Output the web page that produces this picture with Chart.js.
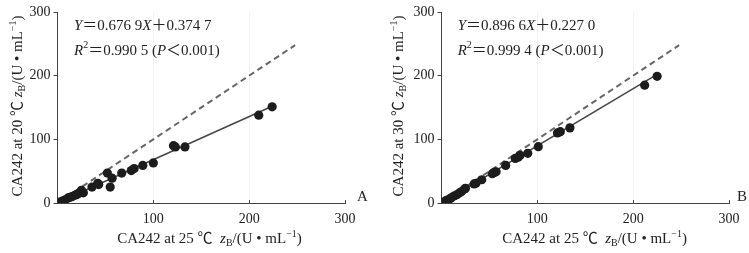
<!DOCTYPE html>
<html>
<head>
<meta charset="utf-8">
<script src="https://cdn.jsdelivr.net/npm/chart.js@4.4.1/dist/chart.umd.min.js"></script>
<style>
  body { margin: 0; background: #fff; }
  .panel { position: absolute; top: 0; }
</style>
</head>
<body>
<div class="panel" style="left:0"><canvas id="chartA" width="375" height="253"></canvas></div>
<div class="panel" style="left:375px"><canvas id="chartB" width="374" height="253"></canvas></div>
<script>
// panel A: 25 ℃ vs 20 ℃
const aX = [2, 5, 8, 11, 13, 15, 18, 20, 22, 24, 25, 27, 36, 42, 43, 52, 55, 57, 67, 77, 80, 89, 100, 121, 123, 133, 210, 224];
const aY = [1.5, 3, 5, 8, 9, 10, 12, 13, 15, 17, 20, 16, 25, 31, 29, 47, 25, 39, 47, 51, 54, 59, 63, 90, 88, 88, 138, 151];
const aFit = [[0, 0.4], [224, 152]];

// panel B: 25 ℃ vs 30 ℃
const bX = [2, 5, 8, 10, 13, 16, 19, 21, 24, 25, 34, 36, 42, 53, 55, 57, 67, 77, 80, 82, 90, 101, 121, 124, 134, 212, 225];
const bY = [1.5, 4, 6, 8, 11, 13, 16, 18, 22, 23, 30, 31, 36.5, 46, 48, 49, 59, 70, 72, 75, 78, 88.5, 110, 112, 118, 185, 199];
const bFit = [[0, 0.2], [225, 202]];

const identity = [[0, 0], [248, 248]];
const xTicks = [100, 200, 300];
const yTicks = [0, 100, 200, 300];

const SERIF = "'Liberation Serif', 'Noto Sans CJK SC', serif";

function fontOf(kind) {
  if (kind === 'i') return 'italic 15px ' + SERIF;
  if (kind === 'sub' || kind === 'sup') return '10px ' + SERIF;
  return '15px ' + SERIF;
}

// draws a line of mixed text (italic, sub, sup)
function drawRich(ctx, segs, x, y, center) {
  let total = 0;
  segs.forEach(s => { ctx.font = fontOf(s[1]); s.w = ctx.measureText(s[0]).width; total += s.w; });
  let cx = center ? x - total / 2 : x;
  segs.forEach(s => {
    ctx.font = fontOf(s[1]);
    const dy = s[1] === 'sub' ? 4 : s[1] === 'sup' ? -5 : 0;
    ctx.fillText(s[0], cx, y + dy);
    cx += s.w;
  });
}

function unitSegs(prefix) {
  return [[prefix, ''], ['z', 'i'], ['B', 'sub'], ['/(U • mL', ''], ['−1', 'sup'], [')', '']];
}

function makeChart(id, xs, ys, fit, cfg) {
  const pts = xs.map((x, i) => ({ x, y: ys[i] }));
  const toXY = arr => arr.map(p => ({ x: p[0], y: p[1] }));

  const textPlugin = {
    id: 'texts',
    afterDraw(chart) {
      const ctx = chart.ctx;
      const area = chart.chartArea;
      const xs = chart.scales.x;
      ctx.save();
      // inward x ticks
      ctx.strokeStyle = '#444';
      ctx.lineWidth = 1;
      xTicks.forEach(v => {
        const px = Math.round(xs.getPixelForValue(v)) + 0.5;
        ctx.beginPath();
        ctx.moveTo(px, area.bottom);
        ctx.lineTo(px, area.bottom - 3);
        ctx.stroke();
      });
      ctx.fillStyle = '#222';
      ctx.textBaseline = 'middle';
      drawRich(ctx, cfg.eq1, cfg.eqX, 25.7, false);
      drawRich(ctx, cfg.eq2, cfg.eqX, 50.7, false);
      ctx.font = '15px ' + SERIF;
      ctx.fillText(cfg.letter, cfg.letterX, 197.5);
      drawRich(ctx, unitSegs('CA242 at 25 ℃  '), cfg.xTitleX, 239, true);
      ctx.translate(cfg.yTitleX, 106);
      ctx.rotate(-Math.PI / 2);
      drawRich(ctx, unitSegs(cfg.yPrefix), 0, 0, true);
      ctx.restore();
    }
  };

  return new Chart(document.getElementById(id), {
    type: 'scatter',
    data: {
      datasets: [
        { type: 'scatter', data: pts, pointRadius: 4.6, pointHoverRadius: 4.6,
          backgroundColor: '#1c1c1c', borderWidth: 0, order: 0 },
        { type: 'scatter', data: toXY(fit), showLine: true, pointRadius: 0,
          borderColor: '#444', borderWidth: 1.5, order: 1 },
        { type: 'scatter', data: toXY(identity), showLine: true, pointRadius: 0,
          borderColor: '#666', borderWidth: 2, borderDash: [6, 4], order: 2 }
      ]
    },
    options: {
      responsive: false,
      animation: false,
      events: [],
      layout: { padding: { left: 0, right: cfg.padRight, top: 12, bottom: 0 } },
      plugins: { legend: { display: false }, tooltip: { enabled: false } },
      scales: {
        x: {
          type: 'linear', min: 0, max: 300,
          afterBuildTicks: s => { s.ticks = [0].concat(xTicks).map(v => ({ value: v })); },
          afterFit: s => { s.height = 50; },
          border: { color: '#444', width: 1 },
          grid: {
            drawTicks: false,
            color: c => (c.tick.value === 100 || c.tick.value === 200) ? '#f2f2f2' : 'rgba(0,0,0,0)'
          },
          ticks: {
            padding: 8, color: '#222', font: { family: SERIF, size: 14 },
            callback: v => v === 0 ? '' : v
          }
        },
        y: {
          type: 'linear', min: 0, max: 300,
          afterBuildTicks: s => { s.ticks = yTicks.map(v => ({ value: v })); },
          afterFit: s => { s.width = cfg.yWidth; },
          border: { color: '#444', width: 1 },
          grid: { drawOnChartArea: false, tickLength: 4, color: '#444' },
          ticks: { padding: 3, color: '#222', font: { family: SERIF, size: 14 } }
        }
      }
    },
    plugins: [textPlugin]
  });
}

makeChart('chartA', aX, aY, aFit, {
  yWidth: 57.5, padRight: 30,
  eqX: 74, letter: 'A', letterX: 357, xTitleX: 209.5, yTitleX: 18.5,
  yPrefix: 'CA242 at 20 ℃ ',
  eq1: [['Y', 'i'], ['＝0.676 9', ''], ['X', 'i'], ['＋0.374 7', '']],
  eq2: [['R', 'i'], ['2', 'sup'], ['＝0.990 5 (', ''], ['P', 'i'], ['＜0.001)', '']]
});

makeChart('chartB', bX, bY, bFit, {
  yWidth: 66.5, padRight: 20,
  eqX: 82.7, letter: 'B', letterX: 362, xTitleX: 219.6, yTitleX: 24,
  yPrefix: 'CA242 at 30 ℃ ',
  eq1: [['Y', 'i'], ['＝0.896 6', ''], ['X', 'i'], ['＋0.227 0', '']],
  eq2: [['R', 'i'], ['2', 'sup'], ['＝0.999 4 (', ''], ['P', 'i'], ['＜0.001)', '']]
});
</script>
</body>
</html>
